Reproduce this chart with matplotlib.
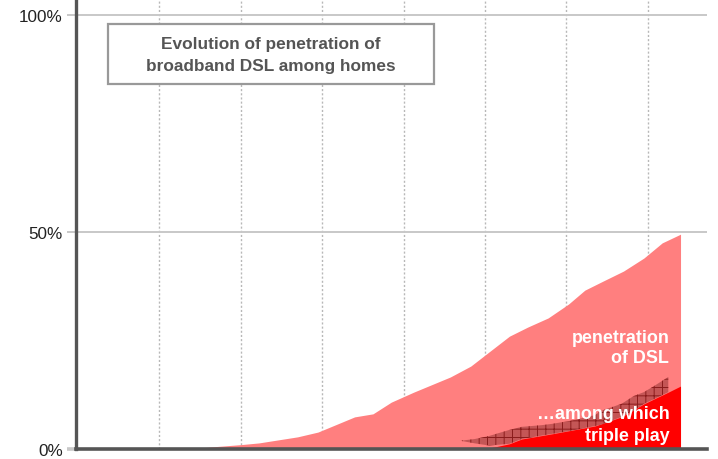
import matplotlib
matplotlib.use("Agg")
import matplotlib.pyplot as plt
from matplotlib.patches import Rectangle

plt.rcParams['font.family'] = ['Liberation Sans', 'DejaVu Sans']
plt.rcParams['hatch.linewidth'] = 0.7

# ---- data (x in quarters, y in % of homes) ----
dsl_x = [5.4, 6.9, 8.0, 8.9, 10.8, 11.8, 13.6, 14.5, 15.4, 16.5, 18.3, 19.3,
         21.2, 22.1, 23.1, 24.1, 24.9, 25.8, 26.8, 27.8, 28.7, 29.6]
dsl_y = [0, 0.6, 1.0, 1.4, 2.8, 3.9, 7.4, 8.1, 10.8, 13.1, 16.6, 19.1,
         26.0, 28.1, 30.2, 33.4, 36.6, 38.7, 41.0, 44.0, 47.5, 49.5]

triple_x = [19.9, 20.5, 21.2, 21.8, 23.3, 25.4, 26.7, 27.8, 29.0, 29.6]
triple_y = [0, 0.5, 1.2, 2.3, 3.5, 5.3, 7.4, 10.4, 13.1, 14.5]

band_x = [18.8, 19.5, 20.2, 21.2, 21.8, 22.8, 23.3, 24.2, 25.4, 25.7, 26.7, 27.3, 27.8, 28.3, 29.0]
band_low = [1.9, 1.3, 0.8, 1.2, 2.3, 3.1, 3.5, 4.2, 5.3, 5.6, 7.4, 8.8, 10.4, 11.5, 13.1]
band_high = [1.9, 2.3, 3.0, 4.4, 5.1, 5.5, 5.8, 6.5, 7.8, 8.8, 10.4, 12.2, 13.1, 14.5, 16.6]

year_marks = [4, 8, 12, 16, 20, 24, 28]
y_ticks = [0, 50, 100]
y_labels = ['0%', '50%', '100%']

title_lines = ['Evolution of penetration of', 'broadband DSL among homes']
dsl_label = ['penetration', 'of DSL']
triple_label = ['\u2026among which', 'triple play']

W, H = 718, 460
fig = plt.figure(figsize=(W / 100, H / 100), dpi=100)
ax = fig.add_axes([76 / W, 1 - 450 / H, (707 - 76) / W, 450 / H])

ax.set_xlim(-0.08, 30.9)
ax.set_ylim(0, 103.7)

# grid
ax.set_xticks(year_marks)
ax.set_xticklabels([])
ax.tick_params(axis='x', length=0)
for xv in year_marks:
    ax.axvline(xv, color='#b8b8b8', lw=1.0, ls=(0, (1.5, 1.5)), zorder=0)
for yv in [50, 100]:
    ax.axhline(yv, color='#c8c8c8', lw=1.4, zorder=0)

# areas
ax.fill_between(dsl_x, 0, dsl_y, color='#ff7f7f', lw=0, zorder=2)
ax.fill_between(triple_x, 0, triple_y, color='#ff0000', lw=0, zorder=3)
ax.fill_between(band_x, band_low, band_high, facecolor='#c45656',
                edgecolor='#8a1c1c', hatch='++', lw=0, zorder=4)

# spines
for s in ['top', 'right']:
    ax.spines[s].set_visible(False)
ax.spines['left'].set_color('#555555')
ax.spines['left'].set_linewidth(2.4)
ax.spines['bottom'].set_color('#555555')
ax.spines['bottom'].set_linewidth(2.6)
ax.spines['bottom'].set_zorder(6)

ax.set_yticks(y_ticks)
ax.set_yticklabels(y_labels, fontsize=12.3, color='#222222')
ax.tick_params(axis='y', length=6.5, width=1.4, color='#c8c8c8', pad=3)
t0 = ax.yaxis.get_major_ticks()[0]
t0.tick1line.set_color('#555555')
t0.tick1line.set_markeredgewidth(2.6)

# labels inside areas
lab_kw = dict(ha='right', va='center', color='white', fontsize=12.9,
              fontweight='bold', zorder=7)
ax.text(29.05, 25.8, dsl_label[0], **lab_kw)
ax.text(29.05, 21.2, dsl_label[1], **lab_kw)
ax.text(29.05, 8.1, triple_label[0], **lab_kw)
ax.text(29.05, 3.0, triple_label[1], **lab_kw)

# title box
fig.patches.append(Rectangle((108 / W, 1 - 85 / H), (434 - 108) / W, 60 / H,
                             transform=fig.transFigure, facecolor='white',
                             edgecolor='#999999', lw=1.6, zorder=5))
fig.text(271 / W, 1 - 45 / H, title_lines[0], ha='center', va='center',
         fontsize=12.4, fontweight='bold', color='#555555', zorder=6)
fig.text(271 / W, 1 - 66 / H, title_lines[1], ha='center', va='center',
         fontsize=12.4, fontweight='bold', color='#555555', zorder=6)

fig.savefig('out.png', dpi=100)
